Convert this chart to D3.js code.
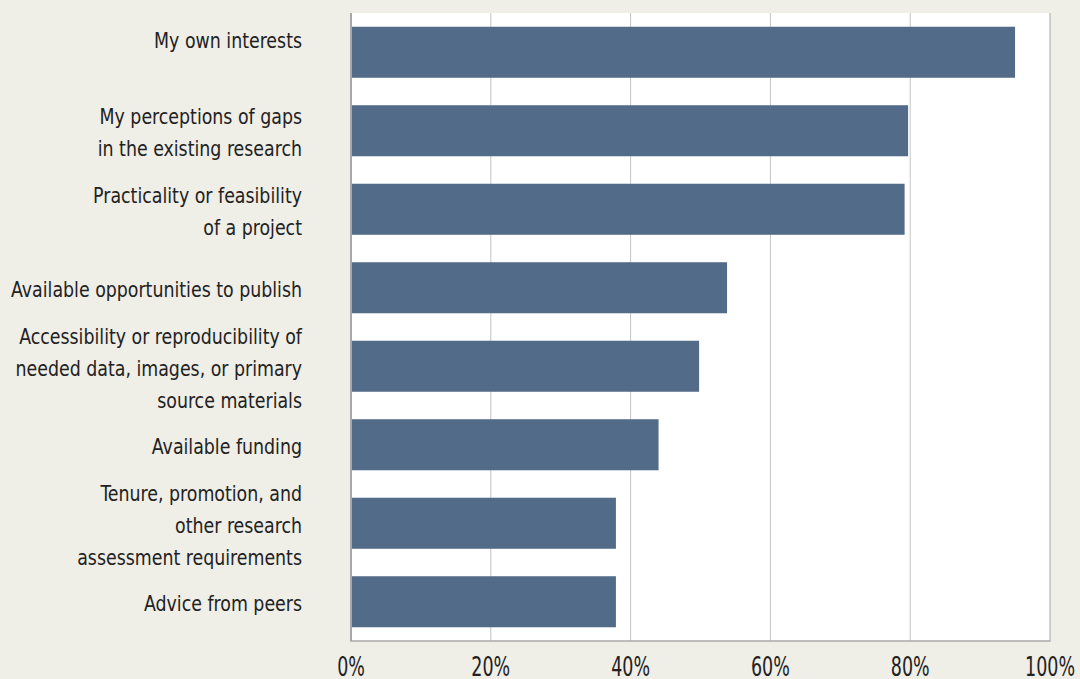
<!DOCTYPE html>
<html>
<head>
<meta charset="utf-8">
<script src="https://cdn.jsdelivr.net/npm/d3@7"></script>
<style>
  body { margin: 0; background: #efeee7; }
  svg { display: block; }
  text { font-family: "Liberation Sans Narrow", "DejaVu Sans Condensed", sans-serif; fill: #222; }
</style>
</head>
<body>
<script>
// categories (lines of each label) and values in percent
var categories = [
  ["My own interests"],
  ["My perceptions of gaps", "in the existing research"],
  ["Practicality or feasibility", "of a project"],
  ["Available opportunities to publish"],
  ["Accessibility or reproducibility of", "needed data, images, or primary", "source materials"],
  ["Available funding"],
  ["Tenure, promotion, and", "other research", "assessment requirements"],
  ["Advice from peers"]
];
var values = [95, 79.7, 79.2, 53.8, 49.8, 44, 37.9, 37.9];
var tickValues = [0, 20, 40, 60, 80, 100];

var width = 1080, height = 679;
var plotL = 351, plotR = 1050, plotT = 13, plotB = 641;

var svg = d3.select('body')
            .append('svg')
            .attr('width', width)
            .attr('height', height)

var x = d3.scaleLinear().domain([0, 100]).range([plotL, plotR]);
var y = d3.scaleBand()
          .domain(d3.range(categories.length))
          .range([plotT, plotB])
          .paddingInner(0.35)
          .paddingOuter(0.175);

// white plot area
svg.append('rect')
   .attr('x', plotL)
   .attr('y', plotT)
   .attr('width', plotR - plotL)
   .attr('height', plotB - plotT)
   .attr('fill', '#fff')

// gridlines
svg.selectAll('line.grid')
   .data(tickValues.slice(1))
   .enter()
   .append('line')
   .attr('class', 'grid')
   .attr('x1', function(d) {return x(d);})
   .attr('x2', function(d) {return x(d);})
   .attr('y1', plotT)
   .attr('y2', plotB)
   .attr('stroke', function(d) {return d === 100 ? '#a8a8a8' : '#c4c4c4';})
   .attr('stroke-width', 1)

// bars
svg.selectAll('rect.bar')
   .data(values)
   .enter()
   .append('rect')
   .attr('class', 'bar')
   .attr('x', x(0))
   .attr('y', function(d, i) {return y(i);})
   .attr('width', function(d) {return x(d) - x(0);})
   .attr('height', y.bandwidth())
   .attr('fill', '#526b88')

// axis lines
svg.append('line')
   .attr('x1', plotL).attr('x2', plotL)
   .attr('y1', plotT).attr('y2', plotB + 0.5)
   .attr('stroke', '#a8a8a8').attr('stroke-width', 2)
svg.append('line')
   .attr('x1', plotL).attr('x2', plotR + 0.5)
   .attr('y1', plotB).attr('y2', plotB)
   .attr('stroke', '#a8a8a8').attr('stroke-width', 1.5)

// x tick labels (condensed: squeezed horizontally to the original's width)
var ticks = svg.selectAll('g.tick')
   .data(tickValues)
   .enter()
   .append('g')
   .attr('class', 'tick')
   .attr('transform', function(d) {return 'translate(' + x(d) + ',676)';})

var tickText = ticks.append('text')
   .attr('text-anchor', 'middle')
   .attr('font-size', 27)
   .text(function(d) {return d + '%';})

var tickW = tickText.filter(function(d) {return d === 100;}).node().getComputedTextLength();
tickText.attr('transform', 'scale(' + Math.min(1, 50 / tickW) + ',1)')

// category labels
var lineH = 32;
var lab = svg.selectAll('g.cat')
   .data(categories)
   .enter()
   .append('g')
   .attr('class', 'cat')
   .attr('transform', function(d, i) {
       var cy = y(i) + y.bandwidth() / 2;
       if (i === 0) cy -= 14; // first label sits high in the original
       return 'translate(302,' + (cy - (d.length - 1) * lineH / 2) + ')';
   })
   .append('text')
   .attr('text-anchor', 'end')
   .attr('font-size', 21)

lab.selectAll('tspan')
   .data(function(d) {return d;})
   .enter()
   .append('tspan')
   .attr('x', 0)
   .attr('y', function(d, i) {return i * lineH;})
   .attr('dy', '0.45em')
   .text(function(d) {return d;})

var longest = lab.filter(function(d, i) {return i === 4;}).select('tspan').node().getComputedTextLength();
lab.attr('transform', 'scale(' + Math.min(1, 283 / longest) + ',1)')
</script>
</body>
</html>
